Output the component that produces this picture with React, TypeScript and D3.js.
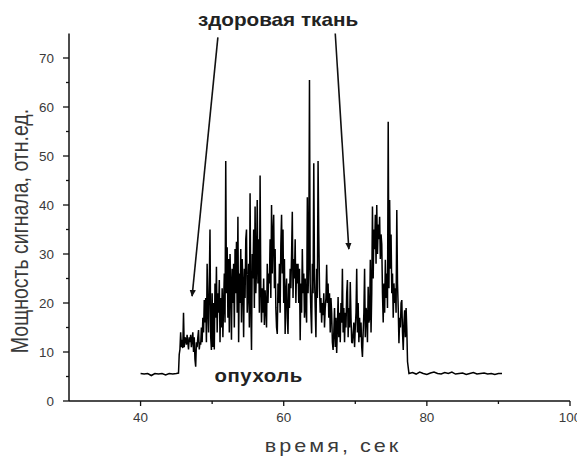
import React from 'react';
import * as d3 from 'd3';

// ---------- data ----------
const xTicksMajor = [40, 60, 80, 100];
const xTicksMinor = [50, 70, 90];
const yTicksMajor = [0, 10, 20, 30, 40, 50, 60, 70];
const yTicksMinor = [5, 15, 25, 35, 45, 55, 65];

const xTitle = 'время, сек';
const yTitle = 'Мощность сигнала, отн.ед.';
const healthyLabel = 'здоровая ткань';
const tumorLabel = 'опухоль';

// baseline before the signal, t = 40 .. 45, step 0.5 s
const PRE_START = 40;
const PRE_STEP = 0.5;
const preBaseline = [5.6, 5.5, 5.6, 5.2, 5.6, 5.5, 5.6, 5.3, 5.6, 5.5, 5.6];

// signal, t = 45.3 .. 77.3, step 0.1 s
const SIG_START = 45.3;
const SIG_STEP = 0.1;
const signal = [
  5.7, 9.5, 10.5, 14, 11, 12.5, 10.8,
  18, 11, 13, 12.5, 11.5, 13.5, 12, 10.5, 13, 12,
  13.5, 11, 12.5, 14, 10, 13, 8.5, 7, 12, 11,
  13, 14.5, 10.5, 12, 11.5, 15, 12, 17, 14, 20.6,
  16, 21, 12, 28, 19, 14, 24, 35, 13, 10.4,
  22, 11, 20, 10.5, 24, 17, 27.4, 14, 22, 18,
  24.7, 12, 21, 15, 23, 13, 20, 26, 16, 49,
  22, 31.4, 17, 29, 14, 30, 24, 12.5, 27, 20,
  28, 15, 31, 22, 32.5, 18, 37.6, 12, 26, 20,
  31, 16, 29, 24, 13, 27, 21, 33, 35, 18,
  22, 28, 15, 42.4, 20, 10.4, 30, 25, 35, 19,
  39.7, 22, 27, 41, 24, 33, 18, 46, 23, 16,
  23, 18, 25, 15.5, 22.6, 19, 15, 28, 20, 26,
  24, 33, 21, 40, 26, 34, 38, 23, 31, 19,
  15, 13.7, 24, 20, 28, 18, 32, 38, 26, 35,
  20, 29, 13.7, 22, 25, 17, 13.7, 24, 19, 27,
  23, 30, 38.6, 21, 29, 25, 33, 20, 28, 24,
  28, 20, 27, 12.4, 24, 18, 31, 22, 26, 17,
  25, 19, 16, 41.6, 22, 28, 65.5, 24, 18, 13.8,
  28, 22, 48.5, 26, 19, 13, 27, 21, 49, 34,
  23, 18, 21, 16, 20, 17.5, 22, 15, 19, 21,
  27.8, 20, 24, 17, 22, 14, 21, 18, 12, 10.4,
  14, 19, 11, 17, 9.8, 15, 21.2, 13, 18, 12,
  20, 16, 27, 14, 19, 12, 18, 15, 22, 24.7,
  13, 19, 15, 24.3, 17, 12, 11.8, 14, 16, 11,
  15, 18, 27, 14, 20, 12, 17, 13, 16, 11,
  9, 14, 18, 27, 13, 19, 18, 12, 23.3, 16,
  17, 28.8, 14, 22, 39.7, 25, 35, 31, 38, 28,
  40, 30, 36, 33, 37.6, 29, 34, 32, 22, 16,
  24, 18, 28.8, 21, 26, 19, 57, 23, 41, 27,
  34, 22, 26, 17, 24, 20, 23, 18, 39, 24,
  19, 11.8, 17, 15, 20, 20.6, 14, 10.4, 16, 18.5,
  13, 19, 14.5, 8,
];

// baseline after the signal, t = 77.5 .. 90.5, step 0.5 s
const POST_START = 77.5;
const POST_STEP = 0.5;
const postBaseline = [
  5.6, 5.8, 5.5, 5.9, 5.6, 5.4, 5.7, 5.9, 5.6, 5.5, 5.8, 5.6, 5.9, 5.5,
  5.6, 5.7, 5.4, 5.6, 5.8, 5.5, 5.6, 5.7, 5.5, 5.6, 5.4, 5.6, 5.6,
];

// annotation arrows in data units: [x1, y1, x2, y2]
const arrowLeft = [50.8, 74.2, 47.2, 21.4];
const arrowRight = [67.2, 75.0, 69.1, 31.0];
// annotation label anchors in data units
const healthyPos = [59.2, 76.5];
const tumorPos = [56.5, 3.9];

const FONT = "'Liberation Sans', Arial, Helvetica, sans-serif";

export default function App() {
  const W = 577;
  const H = 458;
  const x = d3.scaleLinear().domain([30, 100]).range([69, 570]);
  const y = d3.scaleLinear().domain([0, 75]).range([401, 33.5]);

  const pts: [number, number][] = [];
  preBaseline.forEach((v, i) => pts.push([PRE_START + i * PRE_STEP, v]));
  signal.forEach((v, i) => pts.push([SIG_START + i * SIG_STEP, v]));
  postBaseline.forEach((v, i) => pts.push([POST_START + i * POST_STEP, v]));

  const line = d3
    .line<[number, number]>()
    .x((d) => x(d[0]))
    .y((d) => y(d[1]));

  const x0 = x(30);
  const y0 = y(0);
  const axisColor = '#111';
  const labelColor = '#3a3a3a';

  const stretchText = (
    px: number,
    py: number,
    content: string,
    opts: { size: number; sx: number; weight?: string; ls?: number; color?: string; rotate?: number }
  ) => (
    <text
      transform={`translate(${px},${py}) scale(${opts.sx},1)${opts.rotate ? ` rotate(${opts.rotate})` : ''}`}
      textAnchor="middle"
      fontFamily={FONT}
      fontSize={opts.size}
      fontWeight={opts.weight || 'normal'}
      letterSpacing={opts.ls || 0}
      fill={opts.color || labelColor}
    >
      {content}
    </text>
  );

  return (
    <svg
      width={W}
      height={H}
      style={{ position: 'absolute', left: 0, top: 0, background: '#fff' }}
    >
      <defs>
        <marker
          id="ah"
          viewBox="0 0 10 10"
          refX="9"
          refY="5"
          markerWidth="7"
          markerHeight="7"
          markerUnits="userSpaceOnUse"
          orient="auto"
        >
          <path d="M0,0.5 L10,5 L0,9.5 z" fill="#111" />
        </marker>
      </defs>
      <rect width={W} height={H} fill="#fff" />

      {/* X axis */}
      <line x1={x0} x2={x(100)} y1={y0} y2={y0} stroke={axisColor} strokeWidth={1.5} />
      {xTicksMajor.map((t) => (
        <g key={'xM' + t}>
          <line x1={x(t)} x2={x(t)} y1={y0} y2={y0 + 5} stroke={axisColor} strokeWidth={1.3} />
          {stretchText(x(t), y0 + 21, String(t), { size: 12, sx: 1.12 })}
        </g>
      ))}
      {xTicksMinor.map((t) => (
        <line key={'xm' + t} x1={x(t)} x2={x(t)} y1={y0} y2={y0 + 3} stroke={axisColor} strokeWidth={1.3} />
      ))}

      {/* Y axis */}
      <line x1={x0} x2={x0} y1={y0} y2={y(75)} stroke={axisColor} strokeWidth={1.5} />
      {yTicksMajor.map((t) => (
        <g key={'yM' + t}>
          <line x1={x0 - 6} x2={x0} y1={y(t)} y2={y(t)} stroke={axisColor} strokeWidth={1.3} />
          <text
            transform={`translate(${x0 - 15},${y(t) + 4.5}) scale(1.12,1)`}
            textAnchor="end"
            fontFamily={FONT}
            fontSize={12}
            fill={labelColor}
          >
            {t}
          </text>
        </g>
      ))}
      {yTicksMinor.map((t) => (
        <line key={'ym' + t} x1={x0 - 3} x2={x0} y1={y(t)} y2={y(t)} stroke={axisColor} strokeWidth={1.3} />
      ))}

      {/* axis titles */}
      {stretchText(333, 452, xTitle, { size: 18, sx: 1.2, ls: 2.5 })}
      {stretchText(28, 231, yTitle, { size: 19.5, sx: 1.25, rotate: -90 })}

      {/* signal */}
      <path d={line(pts) || ''} fill="none" stroke="#000" strokeWidth={1.5} strokeLinejoin="miter" strokeMiterlimit={2} />

      {/* annotations */}
      <line
        x1={x(arrowLeft[0])}
        y1={y(arrowLeft[1])}
        x2={x(arrowLeft[2])}
        y2={y(arrowLeft[3])}
        stroke="#111"
        strokeWidth={1.6}
        markerEnd="url(#ah)"
      />
      <line
        x1={x(arrowRight[0])}
        y1={y(arrowRight[1])}
        x2={x(arrowRight[2])}
        y2={y(arrowRight[3])}
        stroke="#111"
        strokeWidth={1.6}
        markerEnd="url(#ah)"
      />
      {stretchText(x(healthyPos[0]), y(healthyPos[1]), healthyLabel, { size: 18, sx: 1.15, weight: 'bold', color: '#222' })}
      {stretchText(x(tumorPos[0]), y(tumorPos[1]), tumorLabel, { size: 18, sx: 1.13, weight: 'bold', color: '#222', ls: 0.5 })}
    </svg>
  );
}
